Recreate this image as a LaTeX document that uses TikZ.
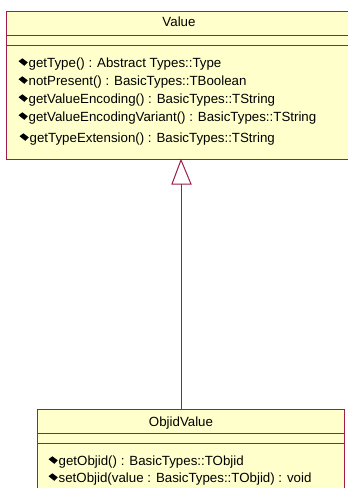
\documentclass[tikz,border=0pt]{standalone}
\usepackage{fontspec}
\setmainfont{Liberation Sans}
\definecolor{umlborder}{RGB}{160,30,70}
\definecolor{umlfill}{RGB}{255,255,204}
\begin{document}
\begin{tikzpicture}[x=1pt,y=-1pt,
  classbox/.style={draw=umlborder,fill=umlfill,line width=1pt,rectangle,inner sep=0pt,anchor=north west},
  sepline/.style={draw=umlborder,line width=1pt},
  optext/.style={anchor=west,inner sep=0pt,font=\fontsize{13.3}{15}\selectfont},
  titletext/.style={inner sep=0pt,font=\fontsize{13.3}{15}\selectfont},
  gen/.style={draw=umlborder,line width=1pt},
  opmark/.pic={\fill[black] (-4.5,-0.8) -- (-0.6,-3.7) -- (4.8,0.4) -- (1.3,3.8) -- cycle;}
]
\useasboundingbox (0,0) rectangle (348,488);
\clip (0,0) rectangle (348,488);
% Value class
\node[classbox,minimum width=346pt,minimum height=148pt] (value) at (6,11) {};
\draw[sepline] (6,35) -- (352,35);
\draw[sepline] (6,45) -- (352,45);
\node[titletext] (vtitle) at (179,22) {Value};
\pic at (23,62) {opmark};
\node[optext] (v1) at (28.5,64) {getType() : Abstract Types::Type};
\pic at (23,80) {opmark};
\node[optext] (v2) at (28.5,82) {notPresent() : BasicTypes::TBoolean};
\pic at (23,98) {opmark};
\node[optext] (v3) at (28.5,100) {getValueEncoding() : BasicTypes::TString};
\pic at (23,116) {opmark};
\node[optext] (v4) at (28.5,118) {getValueEncodingVariant() : BasicTypes::TString};
\pic at (24,137) {opmark};
\node[optext] (v5) at (29.5,139) {getTypeExtension() : BasicTypes::TString};
% ObjidValue class
\node[classbox,minimum width=307pt,minimum height=90pt] (objid) at (37,409) {};
\draw[sepline] (37,433) -- (344,433);
\draw[sepline] (37,443) -- (344,443);
\node[titletext] (otitle) at (181,423) {ObjidValue};
\pic at (53,460) {opmark};
\node[optext] (o1) at (58.5,462) {getObjid() : BasicTypes::TObjid};
\pic at (53,477) {opmark};
\node[optext] (o2) at (58.5,479) {setObjid(value : BasicTypes::TObjid) : void};
% generalization
\coordinate (apex) at (181,160);
\coordinate (tbl) at (172,184);
\coordinate (tbr) at (191,184);
\coordinate (tbm) at (181,184);
\coordinate (oend) at (181,409);
\draw[gen,fill=white] (apex) -- (tbl) -- (tbr) -- cycle;
\draw[gen] (tbm) -- (oend);
\end{tikzpicture}
\end{document}
